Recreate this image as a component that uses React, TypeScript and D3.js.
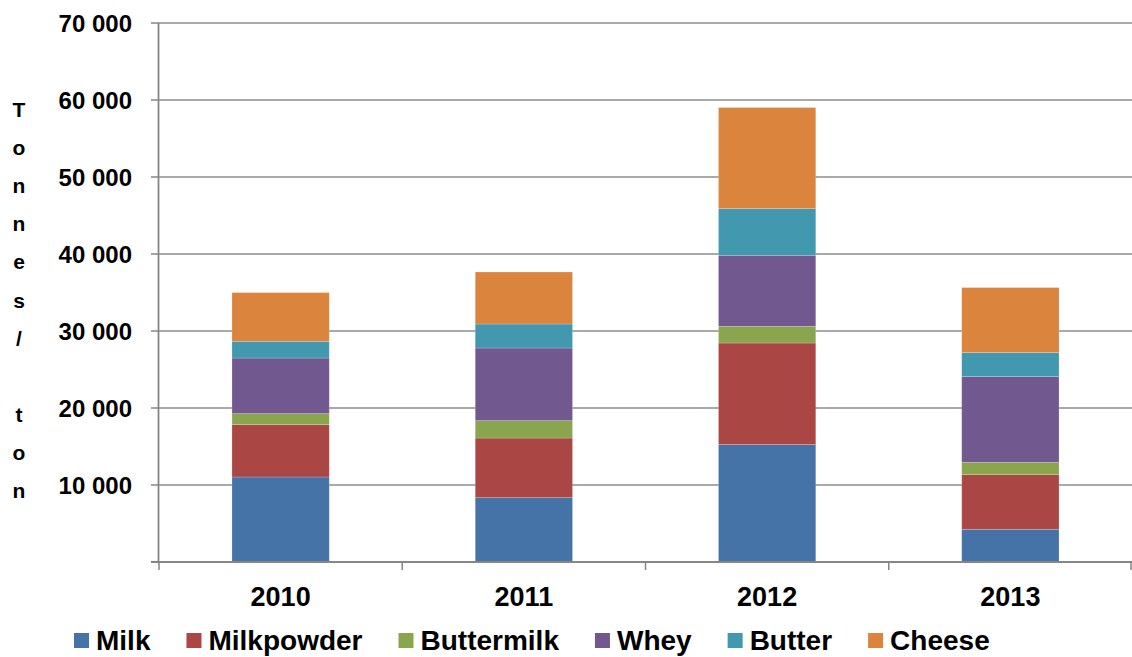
import React, { useEffect, useRef } from "react";
import * as d3 from "d3";

const categories = ["2010", "2011", "2012", "2013"];
const seriesNames = ["Milk", "Milkpowder", "Buttermilk", "Whey", "Butter", "Cheese"];
const seriesColors = ["#4572A7", "#AA4643", "#89A54E", "#71588F", "#4198AF", "#DB843D"];
const milk = [11040, 8360, 15250, 4250];
const milkpowder = [6800, 7740, 13190, 7100];
const buttermilk = [1430, 2260, 2170, 1600];
const whey = [7220, 9430, 9220, 11130];
const butter = [2170, 3120, 6070, 3120];
const cheese = [6330, 6750, 13120, 8440];
const yTicks = [10000, 20000, 30000, 40000, 50000, 60000, 70000];
const yTitle = "Tonnes/ ton";

const W = 1132;
const H = 657;
const FONT = "'Liberation Sans', Arial, sans-serif";

export default function App() {
  const ref = useRef<SVGSVGElement | null>(null);

  useEffect(() => {
    const svg = d3.select(ref.current);
    svg.selectAll("*").remove();

    const left = 159, right = 1132, top = 23, bottom = 562;
    const y = d3.scaleLinear().domain([0, 70000]).range([bottom, top]);
    const x = d3.scaleBand<string>().domain(categories).range([left, right]).paddingInner(0.6).paddingOuter(0.3);

    const values = [milk, milkpowder, buttermilk, whey, butter, cheese];
    const table = categories.map((c, i) => {
      const row: any = { cat: c };
      seriesNames.forEach((s, j) => (row[s] = values[j][i]));
      return row;
    });
    const stacked = d3.stack<any>().keys(seriesNames)(table);

    // gridlines
    svg.append("g").selectAll("line").data(yTicks).join("line")
      .attr("x1", left).attr("x2", right)
      .attr("y1", (d) => y(d)).attr("y2", (d) => y(d))
      .attr("stroke", "#8c8c8c").attr("stroke-width", 1.5);

    // bars
    svg.append("g").selectAll("g").data(stacked).join("g")
      .attr("fill", (_d, i) => seriesColors[i])
      .selectAll("rect").data((d) => d).join("rect")
      .attr("x", (d: any) => x(d.data.cat)!)
      .attr("width", x.bandwidth())
      .attr("y", (d: any) => y(d[1]))
      .attr("height", (d: any) => y(d[0]) - y(d[1]))
      .attr("stroke", "rgba(255,255,255,0.25)").attr("stroke-width", 0.8);

    // y axis
    const ax = svg.append("g");
    ax.append("line").attr("x1", left - 0.5).attr("x2", left - 0.5).attr("y1", top).attr("y2", bottom + 1)
      .attr("stroke", "#868686").attr("stroke-width", 1.8);
    ax.selectAll("line.t").data([0, ...yTicks]).join("line").attr("class", "t")
      .attr("x1", left - 8).attr("x2", left).attr("y1", (d) => y(d)).attr("y2", (d) => y(d))
      .attr("stroke", "#868686").attr("stroke-width", 1.5);
    ax.selectAll("text").data(yTicks).join("text")
      .attr("x", 132).attr("y", (d) => y(d)).attr("dy", "0.36em")
      .attr("text-anchor", "end").attr("font-family", FONT).attr("font-weight", "bold")
      .attr("font-size", 24).attr("fill", "#000")
      .text((d) => d3.format(",")(d).replace(/,/g, " "));

    // x axis
    const step = x.step();
    const bounds = d3.range(categories.length + 1).map((i) => left + i * step);
    ax.append("line").attr("x1", left - 8).attr("x2", right).attr("y1", bottom).attr("y2", bottom)
      .attr("stroke", "#868686").attr("stroke-width", 1.8);
    ax.selectAll("line.xt").data(bounds).join("line").attr("class", "xt")
      .attr("x1", (d) => Math.min(d, right - 1)).attr("x2", (d) => Math.min(d, right - 1))
      .attr("y1", bottom).attr("y2", bottom + 8)
      .attr("stroke", "#868686").attr("stroke-width", 1.5);
    ax.selectAll("text.xl").data(categories).join("text").attr("class", "xl")
      .attr("x", (d) => x(d)! + x.bandwidth() / 2).attr("y", 606)
      .attr("text-anchor", "middle").attr("font-family", FONT).attr("font-weight", "bold")
      .attr("font-size", 27).attr("fill", "#000").text((d) => d);

    // y title stacked letters
    svg.append("g").selectAll("text").data(yTitle.split("")).join("text")
      .attr("x", 19).attr("y", (_d, i) => 117 + i * 38.1)
      .attr("text-anchor", "middle").attr("font-family", FONT).attr("font-weight", "bold")
      .attr("font-size", 21).attr("fill", "#000").text((d) => d);

    // legend
    const lg = svg.append("g");
    let cx = 74;
    seriesNames.forEach((s, i) => {
      lg.append("rect").attr("x", cx).attr("y", 633).attr("width", 15).attr("height", 15).attr("fill", seriesColors[i]);
      const t = lg.append("text").attr("x", cx + 22).attr("y", 650)
        .attr("font-family", FONT).attr("font-weight", "bold").attr("font-size", 28).attr("fill", "#000").text(s);
      const w = (t.node() as SVGTextElement).getComputedTextLength();
      cx = cx + 22 + w + 36;
    });
  }, []);

  return (
    <svg ref={ref} width={W} height={H} style={{ position: "absolute", left: 0, top: 0, background: "#fff" }} />
  );
}
